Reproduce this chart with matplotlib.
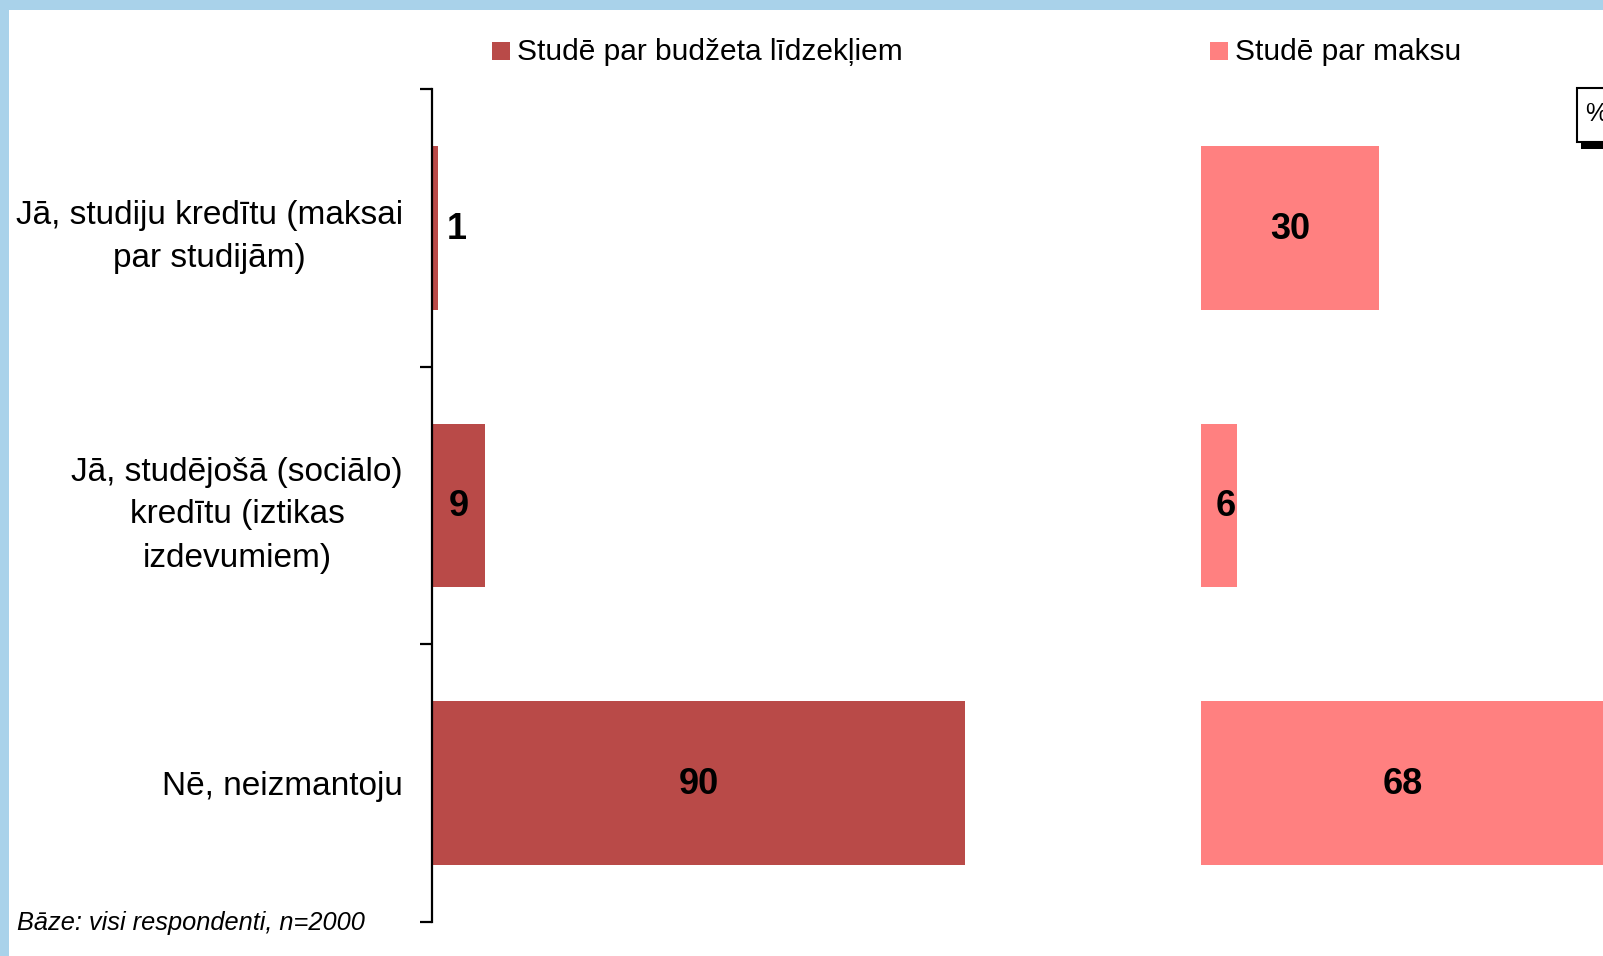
import matplotlib.pyplot as plt
from matplotlib.patches import Rectangle

plt.rcParams['font.family'] = ['Liberation Sans', 'DejaVu Sans']

categories = [
    'Jā, studiju kredītu (maksai\npar studijām)',
    'Jā, studējošā (sociālo)\nkredītu (iztikas\nizdevumiem)',
    'Nē, neizmantoju',
]
budget = [1, 9, 90]
paid = [30, 6, 68]
series_names = ['Studē par budžeta līdzekļiem', 'Studē par maksu']
colors = ['#B94A48', '#FF8080']
footnote = 'Bāze: visi respondenti, n=2000'

W, H = 1603, 956


def fx(x):
    return x / W


def fy(y):
    return 1 - y / H


fig = plt.figure(figsize=(W / 100, H / 100), dpi=100, facecolor='#A9D2EA')
# white slide area
fig.patches.append(Rectangle((fx(9), 0), 1, fy(10), transform=fig.transFigure,
                             facecolor='white', edgecolor='none', zorder=-10))

# axes: y from 89 to 922 px, left panel starts at 432, right at 1201
top, bottom = 89, 922
unit = 5.92  # px per percent
ax1 = fig.add_axes([fx(432), fy(bottom), 100 * unit / W, (bottom - top) / H])
ax2 = fig.add_axes([fx(1201), fy(bottom), 100 * unit / W, (bottom - top) / H])

ypos = list(range(len(categories)))
for ax, vals, col in [(ax1, budget, colors[0]), (ax2, paid, colors[1])]:
    ax.set_facecolor('none')
    ax.barh(ypos, vals, height=0.59, color=col, zorder=2)
    ax.set_xlim(0, 100)
    ax.set_ylim(2.5, -0.5)
    ax.set_xticks([])
    for s in ['top', 'right', 'bottom']:
        ax.spines[s].set_visible(False)
    for v, y in zip(vals, ypos):
        ax.text(max(v / 2, 4.2), y + 0.005, str(v), ha='center', va='center',
                fontsize=26, fontweight='bold', color='black', zorder=3)

ax1.spines['left'].set_linewidth(1.6)
ax1.set_yticks([-0.5, 0.5, 1.5, 2.5])
ax1.set_yticklabels([])
ax1.tick_params(axis='y', which='major', direction='out', length=8.5, width=1.6)
ax1.set_yticks(ypos, minor=True)
ax1.set_yticklabels(categories, minor=True, fontsize=24, multialignment='center',
                    linespacing=1.5)
ax1.tick_params(axis='y', which='minor', length=0, pad=21)

ax2.spines['left'].set_visible(False)
ax2.set_yticks([])

# legend
legend_x = [492, 1210]
for lx, name, col in zip(legend_x, series_names, colors):
    fig.patches.append(Rectangle((fx(lx), fy(60)), 18 / W, 18 / H,
                                 transform=fig.transFigure, facecolor=col,
                                 edgecolor='none'))
    fig.text(fx(lx + 25), fy(52), name, fontsize=21.5, va='center', ha='left')

# percent box in the corner
fig.patches.append(Rectangle((fx(1581), fy(149)), 40 / W, 8 / H,
                             transform=fig.transFigure, facecolor='black',
                             edgecolor='none'))
fig.patches.append(Rectangle((fx(1577), fy(142)), 40 / W, 54 / H,
                             transform=fig.transFigure, facecolor='white',
                             edgecolor='black', linewidth=1.5))
fig.text(fx(1585), fy(114), '%', fontsize=18, va='center', ha='left')

fig.text(fx(17), fy(923), footnote, fontsize=18.3, style='italic',
         va='center', ha='left')

fig.savefig('out.png', dpi=100, facecolor=fig.get_facecolor())
